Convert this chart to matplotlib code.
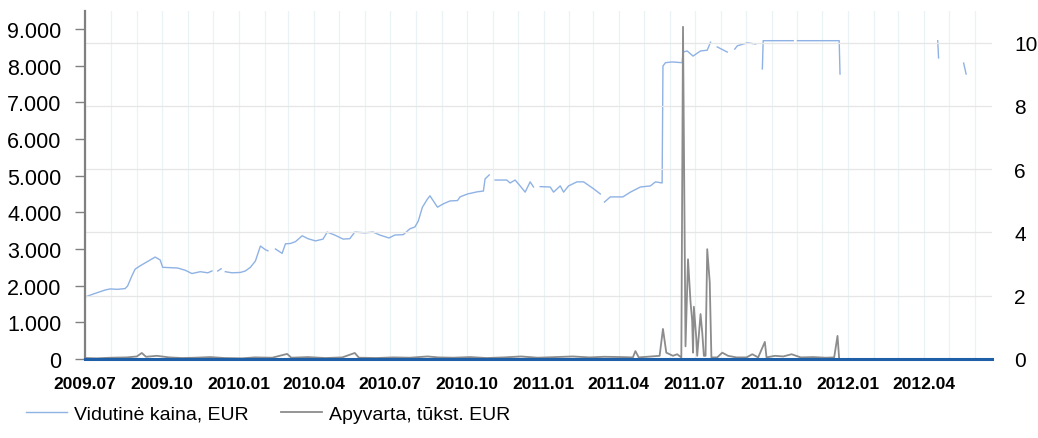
import matplotlib
matplotlib.use('Agg')
import matplotlib.pyplot as plt
import matplotlib.dates as mdates
import numpy as np
import pandas as pd

plt.rcParams['font.family'] = ['Liberation Sans', 'DejaVu Sans']

nan = np.nan

# average price, EUR (nan = no trades)
price_dates = [
    '2009-07-01', '2009-07-12', '2009-07-25', '2009-07-31', '2009-08-09', '2009-08-18',
    '2009-08-21', '2009-08-26', '2009-08-30', '2009-09-05', '2009-09-11', '2009-09-17',
    '2009-09-23', '2009-09-29', '2009-10-02', '2009-10-11', '2009-10-20', '2009-10-29',
    '2009-11-06', '2009-11-16', '2009-11-25', '2009-11-30', '2009-12-03', '2009-12-07',
    '2009-12-11', '2009-12-13', '2009-12-16', '2009-12-24', '2010-01-03', '2010-01-09',
    '2010-01-15', '2010-01-21', '2010-01-27', '2010-02-02', '2010-02-05', '2010-02-09',
    '2010-02-14', '2010-02-20', '2010-02-22', '2010-02-26', '2010-03-04', '2010-03-10',
    '2010-03-18', '2010-03-25', '2010-04-03', '2010-04-12', '2010-04-17', '2010-04-26',
    '2010-05-06', '2010-05-14', '2010-05-20', '2010-06-01', '2010-06-11', '2010-06-19',
    '2010-06-30', '2010-07-07', '2010-07-17', '2010-07-25', '2010-07-31', '2010-08-04',
    '2010-08-09', '2010-08-15', '2010-08-18', '2010-08-22', '2010-08-27', '2010-09-03',
    '2010-09-11', '2010-09-20', '2010-09-23', '2010-10-02', '2010-10-14', '2010-10-21',
    '2010-10-23', '2010-10-28', '2010-10-31', '2010-11-04', '2010-11-18', '2010-11-22',
    '2010-11-28', '2010-12-04', '2010-12-10', '2010-12-16', '2010-12-20', '2010-12-24',
    '2010-12-28', '2011-01-09', '2011-01-13', '2011-01-21', '2011-01-25', '2011-01-31',
    '2011-02-10', '2011-02-18', '2011-03-02', '2011-03-10', '2011-03-13', '2011-03-15',
    '2011-03-22', '2011-04-06', '2011-04-15', '2011-04-27', '2011-05-09', '2011-05-15',
    '2011-05-23', '2011-05-24', '2011-05-27', '2011-06-04', '2011-06-16', '2011-06-17',
    '2011-06-22', '2011-06-29', '2011-07-08', '2011-07-16', '2011-07-20', '2011-07-24',
    '2011-07-28', '2011-08-09', '2011-08-15', '2011-08-18', '2011-08-21', '2011-09-02',
    '2011-09-12', '2011-09-15', '2011-09-20', '2011-09-21', '2011-10-12', '2011-10-27',
    '2011-10-29', '2011-11-01', '2011-11-28', '2011-12-21', '2011-12-22', '2011-12-25',
    '2012-04-17', '2012-04-18', '2012-04-20', '2012-05-18', '2012-05-21',
]
price_values = [
    1690, 1780, 1880, 1910, 1900, 1920,
    1990, 2260, 2450, 2540, 2620, 2700,
    2780, 2700, 2500, 2490, 2480, 2420,
    2330, 2380, 2350, 2400, nan, 2400,
    2460, nan, 2380, 2350, 2360, 2400,
    2500, 2670, 3080, 2980, 2950, nan,
    3000, 2910, 2880, 3140, 3150, 3200,
    3360, 3280, 3220, 3270, 3460, 3380,
    3270, 3280, 3460, 3440, 3460, 3380,
    3300, 3380, 3390, 3550, 3600, 3760,
    4140, 4360, 4450, 4310, 4140, 4230,
    4310, 4320, 4420, 4500, 4560, 4580,
    4910, 5020, nan, 4880, 4880, 4800,
    4880, 4720, 4550, 4830, 4690, nan,
    4700, 4690, 4550, 4720, 4550, 4720,
    4830, 4830, 4640, 4500, nan, 4280,
    4420, 4420, 4550, 4690, 4720, 4830,
    4800, 7990, 8080, 8100, 8080, 8370,
    8400, 8260, 8400, 8420, 8640, nan,
    8510, 8370, nan, 8450, 8540, 8620,
    8590, nan, 7910, 8680, 8680, 8680,
    nan, 8680, 8680, 8680, 7770, nan,
    8680, 8210, nan, 8070, 7770,
]

# turnover, thousand EUR
turnover_dates = [
    '2009-07-01', '2009-07-15', '2009-08-01', '2009-08-20', '2009-09-01', '2009-09-07',
    '2009-09-12', '2009-09-25', '2009-10-10', '2009-10-25', '2009-11-10', '2009-11-28',
    '2009-12-15', '2010-01-05', '2010-01-20', '2010-02-10', '2010-02-28', '2010-03-05',
    '2010-03-25', '2010-04-15', '2010-05-05', '2010-05-20', '2010-05-25', '2010-06-15',
    '2010-07-05', '2010-07-25', '2010-08-15', '2010-08-28', '2010-09-15', '2010-10-05',
    '2010-10-25', '2010-11-15', '2010-12-05', '2010-12-25', '2011-01-15', '2011-02-05',
    '2011-02-25', '2011-03-15', '2011-04-05', '2011-04-18', '2011-04-21', '2011-04-25',
    '2011-05-10', '2011-05-20', '2011-05-24', '2011-05-28', '2011-06-05', '2011-06-10',
    '2011-06-15', '2011-06-17', '2011-06-20', '2011-06-23', '2011-06-26', '2011-06-28',
    '2011-06-29', '2011-06-30', '2011-07-03', '2011-07-04', '2011-07-08', '2011-07-10',
    '2011-07-12', '2011-07-14', '2011-07-16', '2011-07-19', '2011-07-21', '2011-07-28',
    '2011-08-03', '2011-08-10', '2011-08-20', '2011-09-01', '2011-09-08', '2011-09-15',
    '2011-09-23', '2011-09-25', '2011-10-05', '2011-10-15', '2011-10-25', '2011-11-05',
    '2011-11-20', '2011-12-05', '2011-12-15', '2011-12-19', '2011-12-21',
]
turnover_values = [
    0.03, 0.02, 0.04, 0.05, 0.08, 0.19,
    0.07, 0.10, 0.05, 0.03, 0.04, 0.06,
    0.03, 0.02, 0.05, 0.04, 0.16, 0.04,
    0.06, 0.03, 0.05, 0.19, 0.04, 0.03,
    0.05, 0.04, 0.08, 0.05, 0.04, 0.06,
    0.03, 0.05, 0.08, 0.04, 0.06, 0.08,
    0.05, 0.07, 0.06, 0.05, 0.25, 0.05,
    0.08, 0.10, 0.95, 0.20, 0.10, 0.15,
    0.05, 10.5, 0.40, 3.15, 1.80, 1.20,
    0.20, 1.65, 0.63, 0.10, 1.42, 0.85,
    0.10, 0.10, 3.47, 2.43, 0.05, 0.05,
    0.20, 0.10, 0.05, 0.05, 0.15, 0.05,
    0.54, 0.05, 0.10, 0.08, 0.15, 0.05,
    0.06, 0.04, 0.05, 0.73, 0.0,
]

price_dates = pd.to_datetime(price_dates)
turnover_dates = pd.to_datetime(turnover_dates)

fig = plt.figure(figsize=(10.38, 4.39), dpi=100)
ax = fig.add_axes([0.0819, 0.18, 0.8738, 0.7927])
ax2 = ax.twinx()

line_p, = ax.plot(price_dates, price_values, color='#8fb2e4', lw=1.0,
                  label='Vidutinė kaina, EUR')
line_t, = ax2.plot(turnover_dates, turnover_values, color='#8c8c8c', lw=1.3,
                   label='Apyvarta, tūkst. EUR')

ax.set_xlim(pd.Timestamp('2009-07-01'), pd.Timestamp('2012-06-21'))
ax.set_ylim(0, 9490)
ax2.set_ylim(0, 11)

ax.set_yticks(np.arange(0, 9001, 1000))
ax.yaxis.set_major_formatter(plt.FuncFormatter(lambda v, p: f'{int(v):,}'.replace(',', '.')))
ax2.set_yticks(np.arange(0, 11, 2))

ax.xaxis.set_major_locator(mdates.MonthLocator(bymonth=[1, 4, 7, 10]))
ax.xaxis.set_minor_locator(mdates.MonthLocator())
ax.xaxis.set_major_formatter(mdates.DateFormatter('%Y.%m'))

ax.tick_params(axis='y', labelsize=15.5, length=7, width=1, color='#808080', pad=10)
ax.tick_params(axis='x', which='both', length=0, pad=12)
for lbl in ax.get_xticklabels():
    lbl.set_fontsize(12.5)
    lbl.set_fontweight('bold')
ax2.tick_params(axis='y', labelsize=15, length=0, pad=16)

ax.grid(axis='x', which='both', color='#e9f2f4', lw=0.9)
ax.set_axisbelow(True)
ax2.grid(axis='y', color='#e6e6e6', lw=0.9)
ax2.set_axisbelow(True)

# spines live on the twin so the grid does not cover them
for a in (ax, ax2):
    for s in a.spines.values():
        s.set_visible(False)
ax2.spines['left'].set_visible(True)
ax2.spines['left'].set_color('#808080')
ax2.spines['left'].set_linewidth(1.6)
ax2.spines['bottom'].set_visible(True)
ax2.spines['bottom'].set_color('#1f5fa8')
ax2.spines['bottom'].set_linewidth(2.2)

fig.legend(handles=[line_p, line_t], loc='center left', bbox_to_anchor=(0.018, 0.055),
           ncol=2, frameon=False, fontsize=14, handlelength=2.1,
           handletextpad=0.36, columnspacing=1.65, borderaxespad=0)

fig.savefig('out.png', dpi=100)
